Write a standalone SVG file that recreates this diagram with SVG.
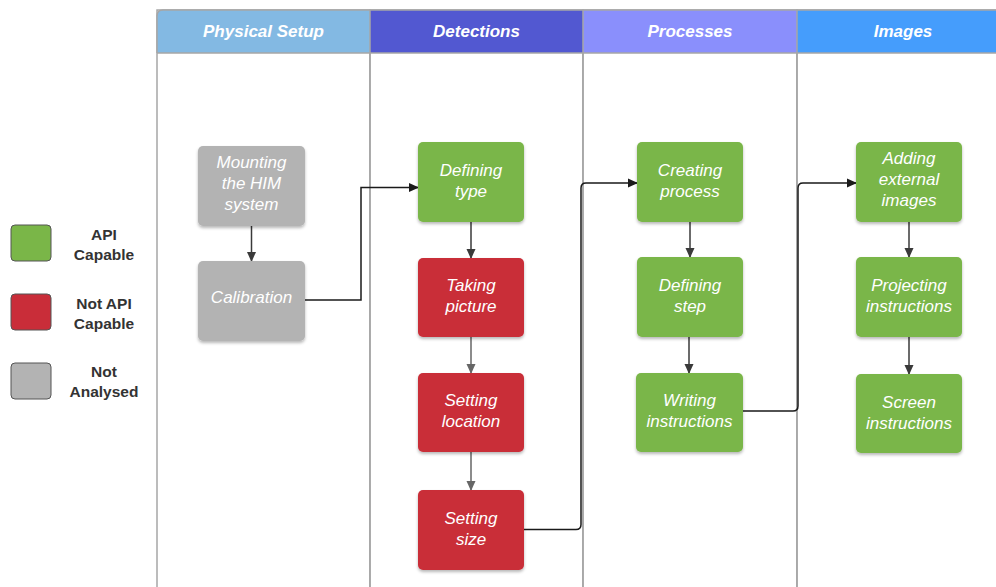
<svg xmlns="http://www.w3.org/2000/svg" width="996" height="587" viewBox="0 0 996 587">
  <style>
    .lane { fill: #ffffff; stroke: #a6a6a6; stroke-width: 1.5; }
    .hdr-text { font-family: "Liberation Sans", Arial, sans-serif; font-size: 17px; font-weight: bold; font-style: italic; fill: #ffffff; text-anchor: middle; }
    .node-text { font-family: "Liberation Sans", Arial, sans-serif; font-size: 17px; font-style: italic; fill: #ffffff; text-anchor: middle; }
    .legend-text { font-family: "Liberation Sans", Arial, sans-serif; font-size: 15.5px; font-weight: bold; fill: #333333; text-anchor: middle; }
    .green { fill: #7AB648; }
    .red { fill: #C92D39; }
    .grey { fill: #B3B3B3; }
    .box { filter: url(#shadow); }
    .link { fill: none; stroke: #1a1a1a; stroke-width: 1.5; }
    .step { fill: none; stroke: #3a3a3a; stroke-width: 1.5; }
    .step-light { fill: none; stroke: #666666; stroke-width: 1.5; }
  </style>
  <defs>
    <filter id="shadow" x="-20%" y="-20%" width="140%" height="150%">
      <feDropShadow dx="0" dy="2" stdDeviation="1.6" flood-color="#000000" flood-opacity="0.28"/>
    </filter>
    <marker id="arrow" markerWidth="10" markerHeight="10" refX="9" refY="5" orient="auto" markerUnits="userSpaceOnUse">
      <path d="M0,0.5 L10,5 L0,9.5 Z" fill="#1a1a1a"/>
    </marker>
    <marker id="arrow-dark" markerWidth="10" markerHeight="12" refX="9" refY="5" orient="auto" markerUnits="userSpaceOnUse">
      <path d="M0,0.5 L10,5 L0,9.5 Z" fill="#3a3a3a"/>
    </marker>
    <marker id="arrow-light" markerWidth="10" markerHeight="12" refX="9" refY="5" orient="auto" markerUnits="userSpaceOnUse">
      <path d="M0,0.5 L10,5 L0,9.5 Z" fill="#666666"/>
    </marker>
  </defs>

  <rect width="996" height="587" fill="#ffffff"/>

  <!-- swimlanes -->
  <g id="lanes">
    <rect class="lane" x="157" y="10" width="213" height="590"/>
    <rect class="lane" x="370" y="10" width="213" height="590"/>
    <rect class="lane" x="583" y="10" width="214" height="590"/>
    <rect class="lane" x="797" y="10" width="210" height="590"/>
    <path d="M157,53 V16 Q157,10 163,10 H370 V53 Z" fill="#83B9E3"/>
    <rect x="370" y="10" width="213" height="43" fill="#5258D1"/>
    <rect x="583" y="10" width="214" height="43" fill="#8A8FFC"/>
    <rect x="797" y="10" width="210" height="43" fill="#459DFC"/>
    <path d="M157,53 V16 Q157,10 163,10 H1000 M157,53 H1000 M370,10 V587 M583,10 V587 M797,10 V587" fill="none" stroke="#a6a6a6" stroke-width="1.5"/>
    <text class="hdr-text" x="263.5" y="37">Physical Setup</text>
    <text class="hdr-text" x="476.5" y="37">Detections</text>
    <text class="hdr-text" x="690" y="37">Processes</text>
    <text class="hdr-text" x="903" y="37">Images</text>
  </g>

  <!-- legend -->
  <g id="legend">
    <rect class="green" x="11" y="225" width="40" height="36" rx="4" stroke="#555" stroke-width="1"/>
    <rect class="red" x="11" y="294" width="40" height="36" rx="4" stroke="#555" stroke-width="1"/>
    <rect class="grey" x="11" y="363" width="40" height="36" rx="4" stroke="#555" stroke-width="1"/>
    <text class="legend-text" x="104" y="240">API</text>
    <text class="legend-text" x="104" y="260">Capable</text>
    <text class="legend-text" x="104" y="309">Not API</text>
    <text class="legend-text" x="104" y="329">Capable</text>
    <text class="legend-text" x="104" y="377">Not</text>
    <text class="legend-text" x="104" y="397">Analysed</text>
  </g>

  <!-- connectors -->
  <g id="connectors">
    <path class="link" d="M305,300 H361 V187.5 H418" marker-end="url(#arrow)"/>
    <path class="link" d="M524,529.5 H576 Q581,529.5 581,524.5 V188 Q581,183 586,183 H637" marker-end="url(#arrow)"/>
    <path class="link" d="M743,411 H793 Q798,411 798,406 V188 Q798,183 803,183 H856" marker-end="url(#arrow)"/>
    <path class="step" d="M251.5,226 V261" marker-end="url(#arrow-dark)"/>
    <path class="step" d="M471,222 V258" marker-end="url(#arrow-dark)"/>
    <path class="step-light" d="M471,337 V373" marker-end="url(#arrow-light)"/>
    <path class="step-light" d="M471,452 V490" marker-end="url(#arrow-light)"/>
    <path class="step" d="M690,222 V257" marker-end="url(#arrow-dark)"/>
    <path class="step" d="M689,337 V373" marker-end="url(#arrow-dark)"/>
    <path class="step" d="M909,222 V257" marker-end="url(#arrow-dark)"/>
    <path class="step" d="M909,337 V374" marker-end="url(#arrow-dark)"/>
  </g>

  <!-- Physical Setup -->
  <g id="mounting">
    <rect class="grey box" x="198" y="146" width="107" height="80" rx="5"/>
    <text class="node-text" x="251.5" y="168">Mounting</text>
    <text class="node-text" x="251.5" y="189">the HIM</text>
    <text class="node-text" x="251.5" y="210">system</text>
  </g>
  <g id="calibration">
    <rect class="grey box" x="198" y="261" width="107" height="80" rx="5"/>
    <text class="node-text" x="251.5" y="303">Calibration</text>
  </g>

  <!-- Detections -->
  <g id="defining-type">
    <rect class="green box" x="418" y="142" width="106" height="80" rx="5"/>
    <text class="node-text" x="471" y="176">Defining</text>
    <text class="node-text" x="471" y="197">type</text>
  </g>
  <g id="taking-picture">
    <rect class="red box" x="418" y="258" width="106" height="79" rx="5"/>
    <text class="node-text" x="471" y="291">Taking</text>
    <text class="node-text" x="471" y="312">picture</text>
  </g>
  <g id="setting-location">
    <rect class="red box" x="418" y="373" width="106" height="79" rx="5"/>
    <text class="node-text" x="471" y="406">Setting</text>
    <text class="node-text" x="471" y="427">location</text>
  </g>
  <g id="setting-size">
    <rect class="red box" x="418" y="490" width="106" height="80" rx="5"/>
    <text class="node-text" x="471" y="524">Setting</text>
    <text class="node-text" x="471" y="545">size</text>
  </g>

  <!-- Processes -->
  <g id="creating-process">
    <rect class="green box" x="637" y="142" width="106" height="80" rx="5"/>
    <text class="node-text" x="690" y="176">Creating</text>
    <text class="node-text" x="690" y="197">process</text>
  </g>
  <g id="defining-step">
    <rect class="green box" x="637" y="257" width="106" height="80" rx="5"/>
    <text class="node-text" x="690" y="291">Defining</text>
    <text class="node-text" x="690" y="312">step</text>
  </g>
  <g id="writing-instructions">
    <rect class="green box" x="636" y="373" width="107" height="79" rx="5"/>
    <text class="node-text" x="689.5" y="406">Writing</text>
    <text class="node-text" x="689.5" y="427">instructions</text>
  </g>

  <!-- Images -->
  <g id="adding-images">
    <rect class="green box" x="856" y="142" width="106" height="80" rx="5"/>
    <text class="node-text" x="909" y="164">Adding</text>
    <text class="node-text" x="909" y="185">external</text>
    <text class="node-text" x="909" y="206">images</text>
  </g>
  <g id="projecting-instructions">
    <rect class="green box" x="856" y="257" width="106" height="80" rx="5"/>
    <text class="node-text" x="909" y="291">Projecting</text>
    <text class="node-text" x="909" y="312">instructions</text>
  </g>
  <g id="screen-instructions">
    <rect class="green box" x="856" y="374" width="106" height="79" rx="5"/>
    <text class="node-text" x="909" y="408">Screen</text>
    <text class="node-text" x="909" y="429">instructions</text>
  </g>
</svg>
